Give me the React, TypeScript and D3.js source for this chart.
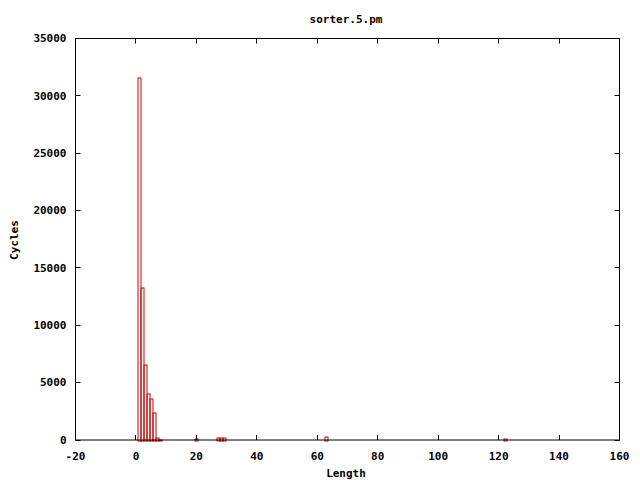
import * as d3 from 'd3';

// histogram bins (length -> cycles)
const lengths = [1, 2, 3, 4, 5, 6, 7, 8, 20, 27, 28, 29, 63, 122];
const cycles = [31600, 13270, 6620, 4070, 3630, 2440, 220, 70, 120, 240, 240, 240, 330, 150];

const xTicks = [-20, 0, 20, 40, 60, 80, 100, 120, 140, 160];
const yTicks = [0, 5000, 10000, 15000, 20000, 25000, 30000, 35000];

const title = 'sorter.5.pm';
const xLabel = 'Length';
const yLabel = 'Cycles';

export default function App() {
  const width = 640;
  const height = 480;
  const margin = { top: 38.5, right: 20.5, bottom: 40, left: 75.5 };
  const innerW = width - margin.left - margin.right;
  const innerH = height - margin.top - margin.bottom;

  const x = d3.scaleLinear().domain([-20, 160]).range([0, innerW]);
  const y = d3.scaleLinear().domain([0, 35000]).range([innerH, 0]);

  const font = "'DejaVu Sans Mono', monospace";
  const tick = 5;
  const red = '#cc0000';

  const data = lengths.map((l, i) => ({ l, v: cycles[i] }));

  return (
    <svg
      width={width}
      height={height}
      style={{ position: 'absolute', left: 0, top: 0, background: '#fff' }}
      fontFamily={font}
      fontWeight="bold"
      fontSize={11}
    >
      <text x={346} y={23} textAnchor="middle">{title}</text>
      <g transform={`translate(${margin.left},${margin.top})`}>
        {/* bars */}
        {data.map((d) => (
          <rect
            key={d.l}
            x={Math.round(x(d.l - 0.5)) + 0.5}
            y={Math.round(y(d.v)) + 0.5}
            width={Math.max(1, Math.round(x(d.l + 0.5)) - Math.round(x(d.l - 0.5)))}
            height={Math.max(0, Math.round(innerH) - Math.round(y(d.v)))}
            fill="none"
            stroke={red}
            strokeWidth={1}
          />
        ))}

        {/* y ticks */}
        {yTicks.map((t) => (
          <g key={t}>
            <line x1={0} x2={tick} y1={Math.round(y(t))} y2={Math.round(y(t))} stroke="#000" />
            <line x1={innerW - tick} x2={innerW} y1={Math.round(y(t))} y2={Math.round(y(t))} stroke="#000" />
            <text x={-9} y={y(t)} dy="0.35em" textAnchor="end">{t}</text>
          </g>
        ))}

        {/* x ticks */}
        {xTicks.map((t) => (
          <g key={t}>
            <line x1={Math.round(x(t))} x2={Math.round(x(t))} y1={innerH} y2={innerH - tick} stroke="#000" />
            <line x1={Math.round(x(t))} x2={Math.round(x(t))} y1={0} y2={tick} stroke="#000" />
            <text x={x(t)} y={innerH + 20} textAnchor="middle">{t}</text>
          </g>
        ))}

        <rect x={0} y={0} width={innerW} height={innerH} fill="none" stroke="#000" strokeWidth={1} />
      </g>
      <text x={346} y={477} textAnchor="middle">{xLabel}</text>
      <text transform="translate(18,240) rotate(-90)" textAnchor="middle">{yLabel}</text>
    </svg>
  );
}
